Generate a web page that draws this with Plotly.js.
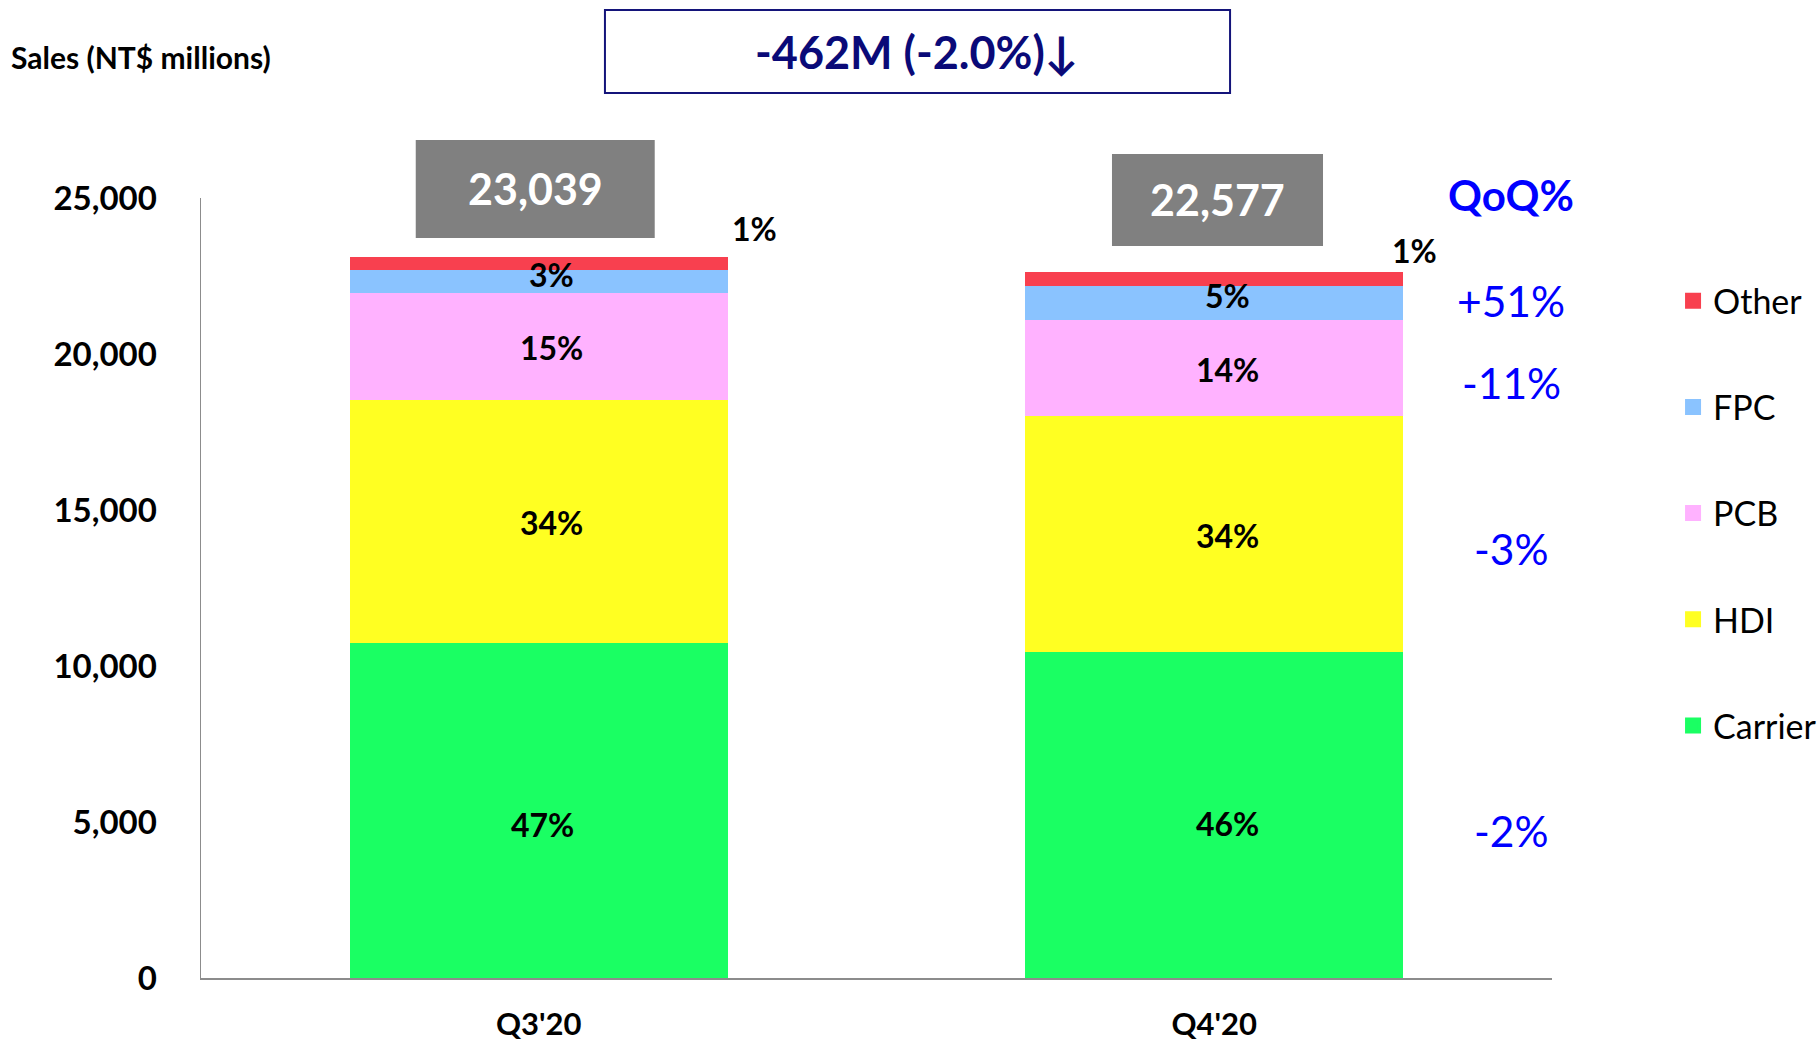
<!DOCTYPE html>
<html>
<head>
<meta charset="utf-8">
<script src="https://cdn.plot.ly/plotly-3.0.1.min.js"></script>
<style>
  html, body { margin: 0; padding: 0; background: #ffffff; }
  #chart { width: 1820px; height: 1044px; }
</style>
</head>
<body>
<div id="chart"></div>
<script>
// ---- data ----
const categories = ["Q3'20", "Q4'20"];
const carrier = [10800, 10510];
const hdi     = [7800, 7570];
const pcb     = [3420, 3070];
const fpc     = [730, 1107];
const other   = [289, 320];

const carrierPct = ["47%", "46%"];
const hdiPct     = ["34%", "34%"];
const pcbPct     = ["15%", "14%"];
const fpcPct     = ["3%", "5%"];
const otherPct   = ["1%", "1%"];

const qoqLabels = ["-2%", "-3%", "-11%", "+51%", ""];   // Carrier, HDI, PCB, FPC, Other

const yTicks = [0, 5000, 10000, 15000, 20000, 25000];
const yMax = 25000;

// ---- styling ----
const FONT = "Lato, 'Open Sans', sans-serif";
const series = [
  { name: "Carrier", values: carrier, pct: carrierPct, color: "#1AFF63", rank: 5 },
  { name: "HDI",     values: hdi,     pct: hdiPct,     color: "#FFFF22", rank: 4 },
  { name: "PCB",     values: pcb,     pct: pcbPct,     color: "#FFB2FF", rank: 3 },
  { name: "FPC",     values: fpc,     pct: fpcPct,     color: "#8AC3FF", rank: 2 },
  { name: "Other",   values: other,   pct: otherPct,   color: "#F8404F", rank: 1 }
];

const totals = categories.map((_, i) => series.reduce((s, t) => s + t.values[i], 0));

const traces = series.map(s => ({
  type: "bar",
  name: s.name,
  x: categories,
  y: s.values,
  legendgroup: s.name,
  legendrank: s.rank,
  marker: { color: s.color, line: { width: 4, color: s.color } },
  hoverinfo: "skip"
}));

const annotations = [];
const shapes = [];

// segment labels (inside bars), Other labels outside top-right
categories.forEach((c, i) => {
  let base = 0;
  series.forEach((s) => {
    const v = s.values[i];
    const mid = base + v / 2;
    if (s.name === "Other") {
      annotations.push({
        x: i, y: base + v, xref: "x", yref: "y",
        xanchor: "center", yanchor: "middle",
        text: s.pct[i], showarrow: false,
        xshift: i === 0 ? 216 : 200, yshift: i === 0 ? 31 : 23,
        font: { family: FONT, size: 32, color: "#000000", weight: "bold" }
      });
    } else {
      let xs = 13;
      if (i === 0 && s.name === "Carrier") xs = 4;
      let ys = -3;
      if (s.name === "Carrier") ys = i === 0 ? -15 : -9;
      if (s.name === "FPC") ys = 5;
      annotations.push({
        x: i, y: mid, xref: "x", yref: "y",
        xanchor: "center", yanchor: "middle",
        text: s.pct[i], showarrow: false,
        xshift: xs, yshift: ys,
        font: { family: FONT, size: 32, color: "#000000", weight: "bold" }
      });
    }
    base += v;
  });
});

// total boxes above bars
const boxCenterOff = [-0.0052, 0.0048];
const boxHalfW     = [0.1769, 0.1562];
const boxGap       = [679, 885];
const boxH         = [3141, 2948];
categories.forEach((c, i) => {
  const y0 = (totals[i] + boxGap[i]) / yMax;
  const y1 = (totals[i] + boxGap[i] + boxH[i]) / yMax;
  const xc = i + boxCenterOff[i];
  shapes.push({
    type: "rect", xref: "x", yref: "paper",
    x0: xc - boxHalfW[i], x1: xc + boxHalfW[i],
    y0: y0, y1: y1,
    fillcolor: "#808080", line: { width: 0 }, layer: "above"
  });
  annotations.push({
    x: xc, y: (y0 + y1) / 2, xref: "x", yref: "paper",
    xanchor: "center", yanchor: "middle",
    text: totals[i].toLocaleString("en-US"), showarrow: false,
    font: { family: FONT, size: 43, color: "#ffffff", weight: "bold" }
  });
});

// change box at the top
const diff = totals[1] - totals[0];
const diffPct = (diff / totals[0] * 100).toFixed(1);
shapes.push({
  type: "rect", xref: "paper", yref: "paper",
  x0: 0.299, x1: 0.7617, y0: 1.1346, y1: 1.2410,
  fillcolor: "#ffffff", line: { color: "#14147a", width: 2 }
});
annotations.push({
  x: 0.530, y: 1.1872, xref: "paper", yref: "paper",
  xanchor: "center", yanchor: "middle",
  text: (diff < 0 ? "-" : "+") + Math.abs(diff) + "M (" + diffPct + "%)" + (diff < 0 ? "↓" : "↑"),
  showarrow: false,
  font: { family: FONT, size: 45, color: "#0A0A78", weight: "bold" }
});

// y axis title
annotations.push({
  x: -0.142, y: 1.1808, xref: "paper", yref: "paper",
  xanchor: "left", yanchor: "middle",
  text: "Sales (NT$ millions)", showarrow: false,
  font: { family: FONT, size: 30, color: "#000000", weight: "bold" }
});

// QoQ column
annotations.push({
  x: 0.9697, y: 1.0038, xref: "paper", yref: "paper",
  xanchor: "center", yanchor: "middle",
  text: "QoQ%", showarrow: false,
  font: { family: FONT, size: 42, color: "#0000FF", weight: "bold" }
});
{
  let base = 0;
  const q4 = 1;
  series.forEach((s, k) => {
    const v = s.values[q4];
    const mid = base + v / 2;
    if (qoqLabels[k]) {
      annotations.push({
        x: 0.9697, xref: "paper", y: mid, yref: "y",
        xanchor: "center", yanchor: "middle",
        yshift: s.name === "FPC" ? 0 : -16,
        text: qoqLabels[k], showarrow: false,
        font: { family: FONT, size: 42.5, color: "#0000FF" }
      });
    }
    base += v;
  });
}

const layout = {
  width: 1820, height: 1044,
  margin: { l: 201, r: 268, t: 198, b: 66, autoexpand: false },
  paper_bgcolor: "#ffffff", plot_bgcolor: "#ffffff",
  barmode: "stack", bargap: 0.446,
  font: { family: FONT, color: "#000000" },
  showlegend: true,
  legend: {
    x: 1.0896, xanchor: "left", y: 0.905, yanchor: "top",
    traceorder: "grouped", tracegroupgap: 59,
    font: { family: FONT, size: 34, color: "#000000" },
    bgcolor: "rgba(0,0,0,0)"
  },
  xaxis: {
    type: "category", range: [-0.5, 1.5],
    showline: true, linecolor: "#8c8c8c", linewidth: 2,
    showgrid: false, zeroline: false, ticks: "",
    ticklabelstandoff: 18,
    tickfont: { family: FONT, size: 31, color: "#000000", weight: "bold" },
    fixedrange: true
  },
  yaxis: {
    range: [0, yMax], tickvals: yTicks, tickformat: ",d",
    showline: true, linecolor: "#8c8c8c", linewidth: 1.5,
    showgrid: false, zeroline: false, ticks: "",
    ticklabelstandoff: 36,
    tickfont: { family: FONT, size: 33, color: "#000000", weight: "bold" },
    fixedrange: true
  },
  annotations: annotations,
  shapes: shapes
};

Plotly.newPlot("chart", traces, layout, { displayModeBar: false, staticPlot: true });
</script>
</body>
</html>
